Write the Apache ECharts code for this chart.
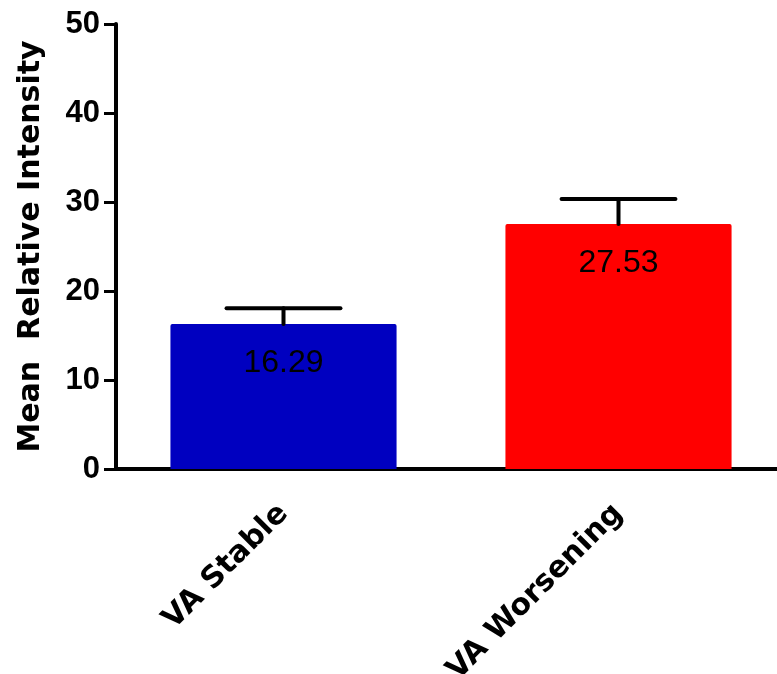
<!DOCTYPE html>
<html>
<head>
<meta charset="utf-8">
<script src="https://cdn.jsdelivr.net/npm/echarts@6/dist/echarts.min.js"></script>
<style>
  html, body { margin: 0; padding: 0; background: #fff; }
  #chart { width: 777px; height: 674px; }
</style>
</head>
<body>
<div id="chart"></div>
<script>
// Groups, group means and their error (upper bar only)
const categories = ['VA Stable', 'VA Worsening'];
const means = [16.29, 27.53];
const errors = [1.78, 2.81];
const barColors = ['#0000C0', '#FF0000'];
const yTicks = { min: 0, max: 50, interval: 10 };

const chart = echarts.init(document.getElementById('chart'));

const barData = means.map((v, i) => ({
  value: v,
  itemStyle: { color: barColors[i] }
}));

const errData = means.map((v, i) => [i, v, v + errors[i]]);

chart.setOption({
  animation: false,
  backgroundColor: '#ffffff',
  grid: {
    left: 116, top: 24, width: 670, height: 445,
    containLabel: false, outerBoundsMode: 'none'
  },
  xAxis: {
    type: 'category',
    data: categories,
    axisLine: { lineStyle: { color: '#000', width: 4 } },
    axisTick: { alignWithLabel: true, length: 13, lineStyle: { color: '#000', width: 3 } },
    axisLabel: {
      rotate: 45,
      margin: 40,
      interval: 0,
      color: '#000',
      fontFamily: 'DejaVu Sans',
      fontWeight: 'bold',
      fontSize: 30
    }
  },
  yAxis: {
    type: 'value',
    min: yTicks.min,
    max: yTicks.max,
    interval: yTicks.interval,
    name: 'Mean  Relative Intensity',
    nameLocation: 'middle',
    nameGap: 70,
    nameTextStyle: {
      color: '#000',
      fontFamily: 'DejaVu Sans',
      fontWeight: 'bold',
      fontSize: 30
    },
    splitLine: { show: false },
    axisLine: { show: true, lineStyle: { color: '#000', width: 4 } },
    axisTick: { show: true, inside: false, length: 12, lineStyle: { color: '#000', width: 3 } },
    axisLabel: {
      margin: 16,
      color: '#000',
      fontFamily: 'Liberation Sans',
      fontWeight: 'bold',
      fontSize: 31
    }
  },
  series: [
    {
      type: 'bar',
      data: barData,
      barWidth: '67.5%',
      itemStyle: { borderRadius: [2, 2, 0, 0] },
      label: {
        show: true,
        position: 'insideTop',
        distance: 23,
        color: '#000',
        fontFamily: 'Liberation Sans',
        fontSize: 32,
        formatter: p => p.value.toFixed(2)
      },
      z: 2
    },
    {
      type: 'custom',
      data: errData,
      z: 3,
      renderItem: function (params, api) {
        const x = api.value(0);
        const base = api.coord([x, api.value(1)]);
        const top = api.coord([x, api.value(2)]);
        const half = api.size([1, 0])[0] * 0.17;
        const style = { stroke: '#000', lineWidth: 4, lineCap: 'round' };
        return {
          type: 'group',
          children: [
            { type: 'line', shape: { x1: base[0], y1: base[1], x2: top[0], y2: top[1] }, style: style },
            { type: 'line', shape: { x1: top[0] - half, y1: top[1], x2: top[0] + half, y2: top[1] }, style: style }
          ]
        };
      }
    }
  ]
});
</script>
</body>
</html>
